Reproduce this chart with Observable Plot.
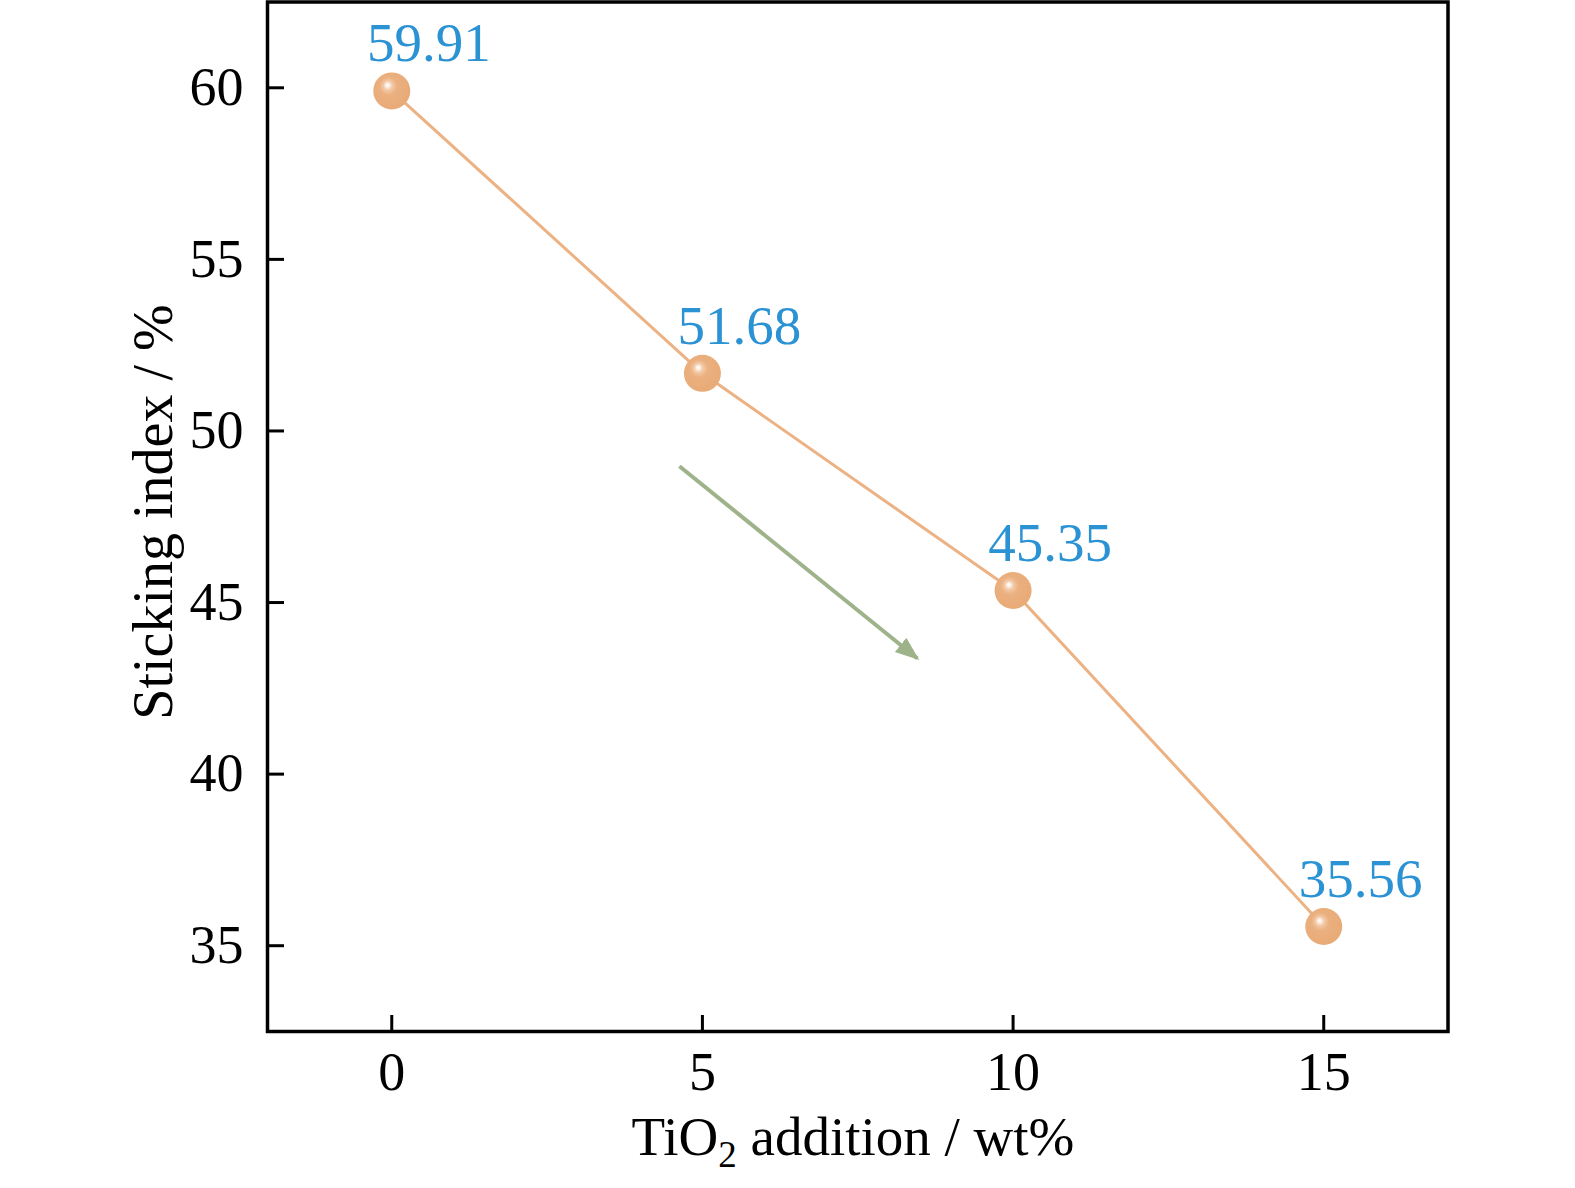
<!DOCTYPE html>
<html>
<head>
<meta charset="utf-8">
<script src="https://cdn.jsdelivr.net/npm/d3@7"></script>
<script src="https://cdn.jsdelivr.net/npm/@observablehq/plot@0.6"></script>
<style>
  html, body { margin: 0; padding: 0; background: #fff; }
  #chart svg { display: block; }
</style>
</head>
<body>
<div id="chart"></div>
<script>
// Data
const tio2 = [0, 5, 10, 15];
const sticking = [59.91, 51.68, 45.35, 35.56];
const labels = ["59.91", "51.68", "45.35", "35.56"];
const xTicks = [0, 5, 10, 15];
const yTicks = [35, 40, 45, 50, 55, 60];
const arrowStart = {x: 4.63, y: 48.97};
const arrowEnd = {x: 8.46, y: 43.37};

const points = tio2.map((x, i) => ({x, y: sticking[i], label: labels[i]}));

const W = 1575, H = 1188;
const mL = 267, mR = 127.5, mT = 1.5, mB = 157;
const innerW = W - mL - mR, innerH = H - mT - mB;
const font = "'Liberation Serif', 'Times New Roman', serif";

const defs = () => {
  const d = d3.create("svg:defs");
  const g = d.append("radialGradient").attr("id", "ball")
    .attr("cx", "0.45").attr("cy", "0.42").attr("r", "0.6")
    .attr("fx", "0.38").attr("fy", "0.34");
  g.append("stop").attr("offset", "0").attr("stop-color", "#ffffff");
  g.append("stop").attr("offset", "0.08").attr("stop-color", "#fdf1e8");
  g.append("stop").attr("offset", "0.2").attr("stop-color", "#f3c9a6");
  g.append("stop").attr("offset", "0.4").attr("stop-color", "#ebb080");
  g.append("stop").attr("offset", "1").attr("stop-color", "#e8aa76");
  return d.node();
};

const headMarker = (color, context) => {
  const m = d3.create("svg:marker")
    .attr("viewBox", "-10 -5 10 10")
    .attr("refX", -1)
    .attr("refY", 0)
    .attr("markerWidth", 6)
    .attr("markerHeight", 6)
    .attr("orient", "auto");
  m.append("path").attr("d", "M-10,-3.8L0,0L-10,3.8Z").attr("fill", color).attr("stroke", "none");
  return m.node();
};

const chart = Plot.plot({
  width: W,
  height: H,
  marginLeft: mL,
  marginRight: mR,
  marginTop: mT,
  marginBottom: mB,
  style: {fontFamily: font, fontSize: "54px", color: "#000", background: "#fff"},
  x: {domain: [-2, 17]},
  y: {domain: [32.5, 62.5]},
  marks: [
    defs,
    Plot.axisX(xTicks, {tickSize: 0, tickPadding: 20, fontSize: 54, label: null, fill: "#000"}),
    Plot.axisY(yTicks, {tickSize: 0, tickPadding: 24, fontSize: 54, label: null, fill: "#000"}),
    Plot.tickX(xTicks, {x: d => d, insetTop: innerH - 16, stroke: "#000", strokeWidth: 3}),
    Plot.tickY(yTicks, {y: d => d, insetRight: innerW - 17, stroke: "#000", strokeWidth: 3}),
    Plot.frame({stroke: "#000", strokeWidth: 3.5}),
    Plot.link([{}], {
      x1: () => arrowStart.x, y1: () => arrowStart.y,
      x2: () => arrowEnd.x, y2: () => arrowEnd.y,
      stroke: "#9fb38b", strokeWidth: 4, markerEnd: headMarker
    }),
    Plot.line(points, {x: "x", y: "y", stroke: "#ecb283", strokeWidth: 3}),
    Plot.dot(points, {x: "x", y: "y", r: 18.5, fill: "url(#ball)", stroke: "none"}),
    Plot.text(points, {x: "x", y: "y", text: "label", dx: 37, dy: -47, fill: "#2b92d4", fontSize: 55, fontFamily: font})
  ]
});

// Axis titles as text in the SVG
const svg = d3.select(chart);
svg.append("text")
  .attr("x", 853).attr("y", 1155)
  .attr("text-anchor", "middle")
  .style("font-family", font).style("font-size", "55px").attr("fill", "#000")
  .call(t => {
    t.append("tspan").text("TiO");
    t.append("tspan").text("2").style("font-size", "37px").attr("dy", "12");
    t.append("tspan").text(" addition / wt%").attr("dy", "-12");
  });
svg.append("text")
  .attr("transform", "translate(172,512) rotate(-90)")
  .attr("text-anchor", "middle")
  .style("font-family", font).style("font-size", "56px").attr("fill", "#000")
  .text("Sticking index / %");

document.getElementById("chart").appendChild(chart);
</script>
</body>
</html>
